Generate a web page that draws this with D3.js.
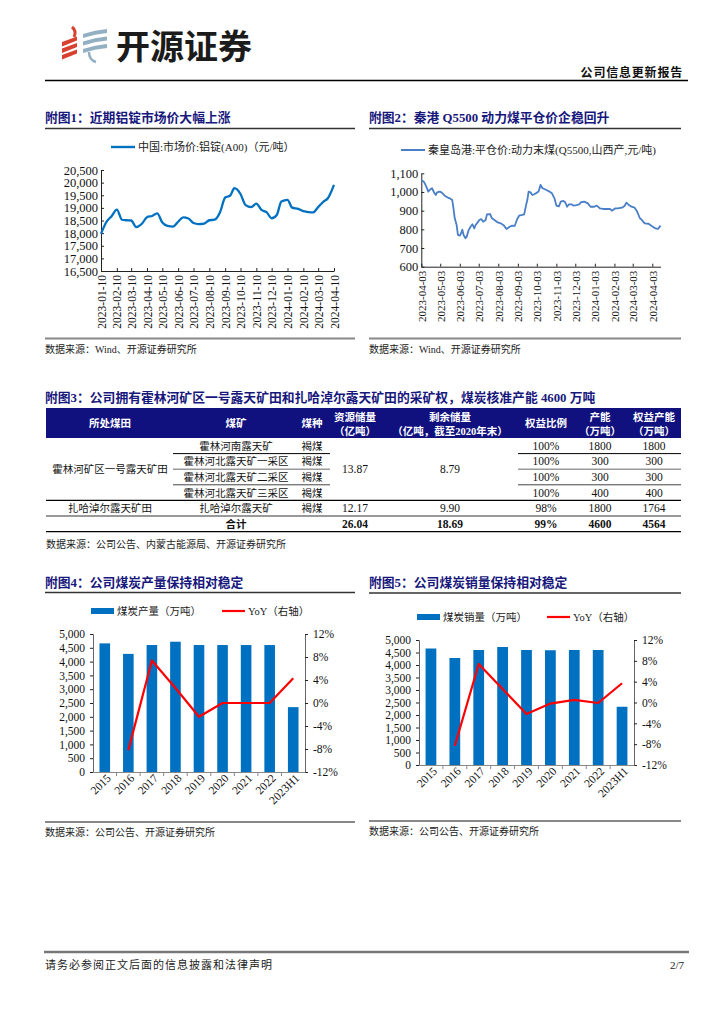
<!DOCTYPE html>
<html>
<head>
<meta charset="utf-8">
<script src="https://cdn.jsdelivr.net/npm/d3@7/dist/d3.min.js"></script>
<style>
  body { margin: 0; background: #fff; }
  svg text { font-family: "Liberation Serif", "Noto Sans CJK SC", serif; }
</style>
</head>
<body>
<svg id="page" width="724" height="1024"></svg>
<script>
'use strict';

// ---- data: aluminium ingot price (chart 1) ----
var alDates = ['2023-01-10','2023-01-20','2023-01-31','2023-02-10','2023-02-20','2023-02-28',
  '2023-03-10','2023-03-20','2023-03-31','2023-04-10','2023-04-20','2023-04-30',
  '2023-05-10','2023-05-20','2023-05-31','2023-06-10','2023-06-20','2023-06-30',
  '2023-07-10','2023-07-20','2023-07-31','2023-08-10','2023-08-20','2023-08-31',
  '2023-09-10','2023-09-20','2023-09-28','2023-10-10','2023-10-20','2023-10-31',
  '2023-11-10','2023-11-20','2023-11-30','2023-12-10','2023-12-20','2023-12-29',
  '2024-01-10','2024-01-19','2024-01-31','2024-02-10','2024-02-20','2024-02-29',
  '2024-03-10','2024-03-20','2024-03-29','2024-04-10'];
var alPrice = [17970, 18420, 18680, 18930, 18530, 18510,
  18500, 18240, 18370, 18630, 18680, 18780,
  18420, 18290, 18260, 18450, 18620, 18580,
  18400, 18360, 18380, 18510, 18530, 18830,
  19410, 19490, 19780, 19550, 19110, 19030,
  19170, 18920, 18830, 18590, 18720, 19250,
  19320, 19010, 18960, 18870, 18830, 18820,
  19030, 19240, 19380, 19910];
var alXTicks = ['2023-01-10','2023-02-10','2023-03-10','2023-04-10','2023-05-10','2023-06-10',
  '2023-07-10','2023-08-10','2023-09-10','2023-10-10','2023-11-10','2023-12-10',
  '2024-01-10','2024-02-10','2024-03-10','2024-04-10'];
var alYTicks = [16500, 17000, 17500, 18000, 18500, 19000, 19500, 20000, 20500];

// ---- data: Qinhuangdao Q5500 thermal coal (chart 2) ----
var coalDates = ['2023-04-03','2023-04-07','2023-04-11','2023-04-14','2023-04-18','2023-04-20',
  '2023-04-24','2023-04-26','2023-04-28','2023-05-02','2023-05-05','2023-05-10',
  '2023-05-15','2023-05-18','2023-05-22','2023-05-24','2023-05-26','2023-05-29',
  '2023-05-31','2023-06-03','2023-06-05','2023-06-07','2023-06-09','2023-06-12',
  '2023-06-14','2023-06-17','2023-06-20','2023-06-23','2023-06-26','2023-06-28',
  '2023-07-01','2023-07-04','2023-07-07','2023-07-10','2023-07-14','2023-07-16',
  '2023-07-21','2023-07-24','2023-07-28','2023-08-02','2023-08-07','2023-08-12',
  '2023-08-16','2023-08-21','2023-08-25','2023-08-29','2023-09-02','2023-09-05',
  '2023-09-10','2023-09-13','2023-09-16','2023-09-18','2023-09-20','2023-09-23',
  '2023-09-26','2023-09-29','2023-10-04','2023-10-06','2023-10-09','2023-10-12',
  '2023-10-15','2023-10-19','2023-10-23','2023-10-27','2023-10-31','2023-11-03',
  '2023-11-07','2023-11-10','2023-11-14','2023-11-17','2023-11-20','2023-11-23',
  '2023-11-27','2023-11-30','2023-12-05','2023-12-09','2023-12-12','2023-12-17',
  '2023-12-23','2023-12-27','2024-01-02','2024-01-06','2024-01-11','2024-01-16',
  '2024-01-22','2024-01-27','2024-01-30','2024-02-04','2024-02-08','2024-02-15',
  '2024-02-19','2024-02-22','2024-02-26','2024-03-01','2024-03-06','2024-03-10',
  '2024-03-14','2024-03-18','2024-03-22','2024-03-28','2024-04-02','2024-04-08',
  '2024-04-12','2024-04-16'];
var coalPrice = [1064, 1055, 1029, 1002, 1016, 1020,
  993, 984, 998, 1002, 998, 980,
  970, 966, 957, 912, 859, 823,
  770, 766, 779, 798, 770, 752,
  761, 796, 814, 827, 805, 823,
  836, 850, 855, 841, 850, 880,
  882, 859, 850, 837, 832, 820,
  802, 814, 820, 818, 855, 873,
  877, 880, 930, 957, 1002, 998,
  984, 988, 998, 1005, 1038, 1020,
  1016, 1009, 1002, 993, 966, 927,
  923, 948, 952, 945, 921, 934,
  934, 927, 930, 934, 945, 948,
  939, 921, 921, 927, 912, 909,
  909, 909, 900, 912, 912, 916,
  925, 943, 930, 921, 916, 895,
  862, 848, 832, 830, 818, 805,
  802, 820];
var coalXTicks = ['2023-04-03','2023-05-03','2023-06-03','2023-07-03','2023-08-03','2023-09-03',
  '2023-10-03','2023-11-03','2023-12-03','2024-01-03','2024-02-03','2024-03-03','2024-04-03'];
var coalYTicks = [600, 700, 800, 900, 1000, 1100];

// ---- data: table (chart 3) ----
var tableHead = [['所处煤田'], ['煤矿'], ['煤种'], ['资源储量', '（亿吨）'],
  ['剩余储量', '（亿吨，截至2020年末）'], ['权益比例'], ['产能', '（万吨）'], ['权益产能', '（万吨）']];
var mineNames = ['霍林河南露天矿', '霍林河北露天矿一采区', '霍林河北露天矿二采区', '霍林河北露天矿三采区', '扎哈淖尔露天矿'];
var mineCoal = ['褐煤', '褐煤', '褐煤', '褐煤', '褐煤'];
var mineShare = ['100%', '100%', '100%', '100%', '98%'];
var mineCapacity = ['1800', '300', '300', '400', '1800'];
var mineEquityCap = ['1800', '300', '300', '400', '1764'];
var fieldNames = ['霍林河矿区一号露天矿田', '扎哈淖尔露天矿田'];
var fieldRows = [[0, 3], [4, 4]];
var fieldReserve = ['13.87', '12.17'];
var fieldRemain = ['8.79', '9.90'];
var totalRow = ['合计', '26.04', '18.69', '99%', '4600', '4564'];

// ---- data: output & sales (charts 4, 5) ----
var years = ['2015', '2016', '2017', '2018', '2019', '2020', '2021', '2022', '2023H1'];
var outputVol = [4660, 4280, 4600, 4720, 4600, 4600, 4600, 4600, 2350];
var outputYoY = [null, -8.2, 7.4, 2.6, -2.4, 0, 0, 0, 4.3];
var salesVol = [4660, 4280, 4600, 4720, 4600, 4590, 4600, 4600, 2330];
var salesYoY = [null, -8.3, 7.4, 2.6, -2.2, -0.2, 0.5, -0.1, 3.7];
var volTicks = [0, 500, 1000, 1500, 2000, 2500, 3000, 3500, 4000, 4500, 5000];
var yoyTicks = [-12, -8, -4, 0, 4, 8, 12];

var NAVY = '#17177c',
    BLUE = '#0070c0',
    RED = '#ff0000';

var parse = d3.timeParse('%Y-%m-%d');
var svg = d3.select('#page');

svg.append('rect').attr('width', 724).attr('height', 1024).attr('fill', '#fff');

// ---- helpers ----
var rule = function (x1, x2, y, color, w) {
  svg.append('line').attr('x1', x1).attr('x2', x2).attr('y1', y).attr('y2', y)
      .attr('stroke', color).attr('stroke-width', w);
};
var title = function (x, y, text) {
  svg.append('text').attr('x', x).attr('y', y).attr('fill', NAVY)
      .attr('font-size', 12.8).attr('font-weight', 'bold').text(text);
};
var source = function (x, y, text) {
  svg.append('text').attr('x', x).attr('y', y).attr('fill', '#222')
      .attr('font-size', 10).text(text);
};
var styleAxis = function (sel, size) {
  sel.select('.domain').attr('stroke', '#222');
  sel.selectAll('.tick line').attr('stroke', '#222');
  sel.selectAll('.tick text').attr('fill', '#111').attr('font-size', size)
      .attr('font-family', '"Liberation Serif", serif');
};
var plain = function (d) {
  return d < 0 ? '-' + Math.abs(d) + '%' : d + '%';
};

// ---- header ----
var logo = svg.append('g');
[0, 1, 2].forEach(function (i) {
  logo.append('path').attr('fill', '#d8412f')
      .attr('d', 'M62,' + (42 + 6.5 * i) + ' L77,' + (36.5 + 6.5 * i) + ' L77,' + (40.5 + 6.5 * i) +
        ' L62,' + (46.5 + 6.5 * i) + 'Z');
  logo.append('path').attr('fill', '#93b0c2')
      .attr('d', 'M83,' + (34 + 7.5 * i) + ' Q95,' + (30 + 7.5 * i) + ' 107,' + (29 + 7.5 * i) +
        ' L107,' + (33 + 7.5 * i) + ' Q95,' + (34 + 7.5 * i) + ' 83,' + (38 + 7.5 * i) + 'Z');
});
logo.append('path').attr('fill', 'none').attr('stroke', '#d8412f').attr('stroke-width', 3)
    .attr('d', 'M72,27 Q77,31 74,37');
logo.append('path').attr('fill', 'none').attr('stroke', '#93b0c2').attr('stroke-width', 2.5)
    .attr('d', 'M89,52 Q89,60 96,62');
svg.append('text').attr('x', 116).attr('y', 59).attr('font-size', 34).attr('font-weight', 'bold')
    .attr('fill', '#1b1b1b').style('font-family', '"Noto Sans CJK SC", sans-serif').text('开源证券');
svg.append('text').attr('x', 683).attr('y', 77).attr('text-anchor', 'end').attr('font-size', 12)
    .attr('font-weight', 'bold').attr('letter-spacing', 0.8).attr('fill', '#111').text('公司信息更新报告');
rule(45, 688, 80.5, '#000', 1.6);

// ---- chart 1 ----
title(45, 122, '附图1：近期铝锭市场价大幅上涨');
rule(45, 355, 128.5, '#333', 1.4);
(function () {
  var g = svg.append('g'),
      x = d3.scaleTime().domain([parse(alXTicks[0]), parse(alXTicks[alXTicks.length - 1])]).range([101, 334]),
      y = d3.scaleLinear().domain([16500, 20500]).range([271, 170]),
      ax, line;

  g.append('line').attr('x1', 111).attr('x2', 135).attr('y1', 147).attr('y2', 147)
      .attr('stroke', BLUE).attr('stroke-width', 2.4);
  g.append('text').attr('x', 138).attr('y', 151).attr('font-size', 11).attr('fill', '#222')
      .text('中国:市场价:铝锭(A00)（元/吨）');

  ax = g.append('g').attr('transform', 'translate(0,271)')
      .call(d3.axisBottom(x).tickValues(alXTicks.map(parse)).tickSizeInner(-3).tickSizeOuter(0)
        .tickFormat(d3.timeFormat('%Y-%m-%d')));
  styleAxis(ax, 11.5);
  ax.selectAll('.tick text').attr('transform', 'rotate(-90)').attr('x', -4).attr('y', 0)
      .attr('dy', '0.35em').attr('text-anchor', 'end');

  ax = g.append('g').attr('transform', 'translate(101,0)')
      .call(d3.axisLeft(y).tickValues(alYTicks).tickSizeInner(-3).tickSizeOuter(0).tickFormat(d3.format(',')));
  styleAxis(ax, 12.5);

  line = d3.line().x(function (d, i) { return x(parse(alDates[i])); })
      .y(function (d) { return y(d); }).curve(d3.curveMonotoneX);
  g.append('path').datum(alPrice).attr('d', line).attr('fill', 'none')
      .attr('stroke', BLUE).attr('stroke-width', 2.3).attr('stroke-linejoin', 'round');
})();
rule(45, 355, 338.5, '#888', 2.2);
source(45, 353, '数据来源：Wind、开源证券研究所');

// ---- chart 2 ----
title(369, 122, '附图2：秦港 Q5500 动力煤平仓价企稳回升');
rule(369, 681, 128.5, '#333', 1.4);
(function () {
  var g = svg.append('g'),
      x = d3.scaleTime().domain([parse('2023-04-03'), parse('2024-04-16')]).range([421.3, 660.5]),
      y = d3.scaleLinear().domain([600, 1100]).range([266.7, 173.3]),
      ax, line;

  g.append('line').attr('x1', 401).attr('x2', 425).attr('y1', 150).attr('y2', 150)
      .attr('stroke', '#4a7ec6').attr('stroke-width', 2);
  g.append('text').attr('x', 428).attr('y', 154).attr('font-size', 11).attr('fill', '#222')
      .text('秦皇岛港:平仓价:动力末煤(Q5500,山西产,元/吨)');

  ax = g.append('g').attr('transform', 'translate(0,266.7)')
      .call(d3.axisBottom(x).tickValues(coalXTicks.map(parse)).tickSizeInner(-3).tickSizeOuter(0)
        .tickFormat(d3.timeFormat('%Y-%m-%d')));
  styleAxis(ax, 11);
  ax.selectAll('.tick text').attr('transform', 'rotate(-90)').attr('x', -4).attr('y', 0)
      .attr('dy', '0.35em').attr('text-anchor', 'end');

  ax = g.append('g').attr('transform', 'translate(421.3,0)')
      .call(d3.axisLeft(y).tickValues(coalYTicks).tickSizeInner(-3).tickSizeOuter(0).tickFormat(d3.format(',')));
  styleAxis(ax, 12.5);

  line = d3.line().x(function (d, i) { return x(parse(coalDates[i])); })
      .y(function (d) { return y(d); });
  g.append('path').datum(coalPrice).attr('d', line).attr('fill', 'none')
      .attr('stroke', '#4a7ec6').attr('stroke-width', 1.8).attr('stroke-linejoin', 'round');
})();
rule(369, 681, 338.5, '#888', 2.2);
source(369, 353, '数据来源：Wind、开源证券研究所');

// ---- table ----
title(45, 402, '附图3：公司拥有霍林河矿区一号露天矿田和扎哈淖尔露天矿田的采矿权，煤炭核准产能 4600 万吨');
(function () {
  var g = svg.append('g'),
      colEdge = [46, 173, 287, 330, 380, 518, 573, 627, 681],
      colMid = [110, 236, 312, 355, 450, 546, 600, 654],
      rowTop = 438,
      rowH = 15.6,
      cjk = 10.5,
      num = 11.5,
      cell;

  cell = function (x, y, text, size, bold) {
    g.append('text').attr('x', x).attr('y', y).attr('text-anchor', 'middle')
        .attr('font-size', size).attr('font-weight', bold ? 'bold' : 'normal')
        .attr('fill', '#111').text(text);
  };

  g.append('rect').attr('x', 46).attr('y', 408).attr('width', 635).attr('height', 30).attr('fill', '#10107e');
  tableHead.forEach(function (lines, i) {
    lines.forEach(function (t, j) {
      g.append('text').attr('x', colMid[i]).attr('y', lines.length === 1 ? 427 : 421 + j * 13.5)
          .attr('text-anchor', 'middle').attr('font-size', 10.5).attr('font-weight', 'bold')
          .attr('fill', '#fff').text(t);
    });
  });

  mineNames.forEach(function (name, i) {
    var cy = rowTop + rowH * i + rowH / 2 + 4;
    cell(colMid[1], cy, name, cjk);
    cell(colMid[2], cy, mineCoal[i], cjk);
    cell(colMid[5], cy, mineShare[i], num);
    cell(colMid[6], cy, mineCapacity[i], num);
    cell(colMid[7], cy, mineEquityCap[i], num);
  });

  fieldNames.forEach(function (name, i) {
    var r = fieldRows[i],
        cy = rowTop + rowH * (r[0] + r[1] + 1) / 2 + 4;
    cell(colMid[0], cy, name, cjk);
    cell(colMid[3], cy, fieldReserve[i], num);
    cell(colMid[4], cy, fieldRemain[i], num);
  });

  var ty = rowTop + rowH * 5 + rowH / 2 + 4;
  cell(colMid[1], ty, totalRow[0], cjk, true);
  totalRow.slice(1).forEach(function (t, i) {
    cell(colMid[i + 3], ty, t, num, true);
  });

  // row separators inside the first field
  [['#000', 1], ['#999', 1.6], ['#444', 1]].forEach(function (s, i) {
    var yy = rowTop + rowH * (i + 1);
    g.append('line').attr('x1', colEdge[1]).attr('x2', colEdge[3]).attr('y1', yy).attr('y2', yy)
        .attr('stroke', s[0]).attr('stroke-width', s[1]);
    g.append('line').attr('x1', colEdge[5]).attr('x2', colEdge[8]).attr('y1', yy).attr('y2', yy)
        .attr('stroke', s[0]).attr('stroke-width', s[1]);
  });
  [[4, '#000', 1.1], [5, '#999', 2], [6, '#000', 1.3]].forEach(function (s) {
    var yy = rowTop + rowH * s[0];
    g.append('line').attr('x1', 46).attr('x2', 681).attr('y1', yy).attr('y2', yy)
        .attr('stroke', s[1]).attr('stroke-width', s[2]);
  });
})();
source(46, 548, '数据来源：公司公告、内蒙古能源局、开源证券研究所');

// ---- bar + line charts ----
var barChart = function (o) {
  var g = svg.append('g'),
      x = d3.scaleBand().domain(years).range([o.left, o.right]),
      y = d3.scaleLinear().domain([0, 5000]).range([o.bottom, o.top]),
      y2 = d3.scaleLinear().domain([-12, 12]).range([o.bottom, o.top]),
      bw = x.bandwidth() * 0.45,
      ax, line;

  // legend
  g.append('rect').attr('x', o.legX).attr('y', o.legY - 3).attr('width', 23).attr('height', 6).attr('fill', BLUE);
  g.append('text').attr('x', o.legX + 26).attr('y', o.legY + 3.8).attr('font-size', 10.5).attr('fill', '#222')
      .text(o.barLabel);
  g.append('line').attr('x1', o.legX2).attr('x2', o.legX2 + 23).attr('y1', o.legY).attr('y2', o.legY)
      .attr('stroke', RED).attr('stroke-width', 2.2);
  g.append('text').attr('x', o.legX2 + 26).attr('y', o.legY + 3.8).attr('font-size', 10.5).attr('fill', '#222')
      .text('YoY（右轴）');

  g.selectAll('rect.bar').data(o.vol).enter().append('rect').attr('class', 'bar')
      .attr('x', function (d, i) { return x(years[i]) + (x.bandwidth() - bw) / 2; })
      .attr('y', function (d) { return y(d); })
      .attr('width', bw)
      .attr('height', function (d) { return o.bottom - y(d); })
      .attr('fill', BLUE);

  ax = g.append('g').attr('transform', 'translate(' + o.left + ',0)')
      .call(d3.axisLeft(y).tickValues(volTicks).tickSize(3).tickPadding(5).tickFormat(d3.format(',')));
  styleAxis(ax, 11.5);
  ax.select('.domain').attr('stroke', '#666');

  ax = g.append('g').attr('transform', 'translate(' + o.right + ',0)')
      .call(d3.axisRight(y2).tickValues(yoyTicks).tickSize(3).tickPadding(5).tickFormat(plain));
  styleAxis(ax, 11.5);
  ax.select('.domain').attr('stroke', '#666');

  ax = g.append('g').attr('transform', 'translate(0,' + o.bottom + ')')
      .call(d3.axisBottom(x).tickSize(0).tickSizeOuter(0));
  styleAxis(ax, 11.5);
  ax.select('.domain').attr('stroke', '#888');
  ax.selectAll('.tick text').attr('transform', 'translate(4,4) rotate(-45)').attr('x', 0).attr('y', 0)
      .attr('dy', '0.35em').attr('text-anchor', 'end');
  g.selectAll('line.sep').data(years.slice(1)).enter().append('line').attr('class', 'sep')
      .attr('x1', function (d) { return x(d); }).attr('x2', function (d) { return x(d); })
      .attr('y1', o.bottom).attr('y2', o.bottom + 4).attr('stroke', '#888');

  line = d3.line().defined(function (d) { return d !== null; })
      .x(function (d, i) { return x(years[i]) + x.bandwidth() / 2; })
      .y(function (d) { return y2(d); });
  g.append('path').datum(o.yoy).attr('d', line).attr('fill', 'none')
      .attr('stroke', RED).attr('stroke-width', 2.2).attr('stroke-linejoin', 'round');
};

title(45, 587, '附图4：公司煤炭产量保持相对稳定');
rule(45, 355, 592.5, '#333', 1.4);
barChart({ left: 93, right: 305, top: 634, bottom: 772, legX: 91, legX2: 222, legY: 611,
  vol: outputVol, yoy: outputYoY, barLabel: '煤炭产量（万吨）' });
rule(45, 355, 822, '#888', 2.2);
source(45, 836, '数据来源：公司公告、开源证券研究所');

title(369, 587, '附图5：公司煤炭销量保持相对稳定');
rule(369, 681, 593, '#333', 1.4);
barChart({ left: 419, right: 634, top: 640, bottom: 765, legX: 417, legX2: 547, legY: 617,
  vol: salesVol, yoy: salesYoY, barLabel: '煤炭销量（万吨）' });
rule(369, 681, 821, '#888', 2.2);
source(369, 835, '数据来源：公司公告、开源证券研究所');

// ---- footer ----
rule(44, 689, 952, '#777', 2.5);
svg.append('text').attr('x', 45).attr('y', 969).attr('font-size', 11).attr('fill', '#222')
    .attr('letter-spacing', 1).text('请务必参阅正文后面的信息披露和法律声明');
svg.append('text').attr('x', 684).attr('y', 969).attr('text-anchor', 'end').attr('font-size', 11)
    .attr('fill', '#222').text('2/7');
</script>
</body>
</html>
